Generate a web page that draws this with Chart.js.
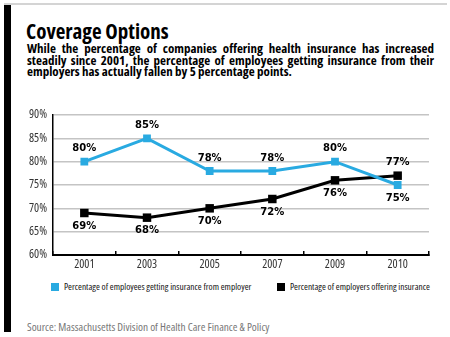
<!DOCTYPE html>
<html>
<head>
<meta charset="utf-8">
<script src="https://cdn.jsdelivr.net/npm/chart.js@4"></script>
<style>
  html, body { margin: 0; padding: 0; background: #fff; }
  #page { position: relative; width: 450px; height: 337px; overflow: hidden; }
  .cond { font-family: "Open Sans", sans-serif; font-stretch: condensed; }
  #bar { position: absolute; left: 4px; top: 5px; width: 7px; height: 327px; background: #000; }
  #rule { position: absolute; left: 4px; top: 3px; width: 443px; height: 2px; background: #d4d4d4; }
  #title { position: absolute; left: 26px; top: 21px; font-size: 21px; line-height: 21px; font-weight: bold; color: #000; white-space: nowrap; }
  #sub { position: absolute; left: 27px; top: 43px; width: 407px; font-size: 13px; line-height: 11.7px; font-weight: bold; color: #000; }
  #sub div { white-space: nowrap; }
  #sub div.j { text-align: justify; text-align-last: justify; white-space: normal; }
  #legend { position: absolute; top: 280px; left: 0; width: 450px; height: 14px; font-size: 9.4px; line-height: 14px; color: #111; }
  #legend span.item { position: absolute; top: 0; white-space: nowrap; }
  #legend i { display: inline-block; width: 8px; height: 8px; margin-right: 5px; vertical-align: -0.5px; }
  #source { position: absolute; left: 27px; top: 321px; font-size: 11.3px; line-height: 12px; color: #777; white-space: nowrap; }
  #wrap { position: absolute; left: 0; top: 100px; width: 450px; height: 175px; }
</style>
</head>
<body>
<div id="page">
  <div id="rule"></div>
  <div id="bar"></div>
  <div id="title" class="cond">Coverage Options</div>
  <div id="sub" class="cond">
    <div class="j">While the percentage of companies offering health insurance has increased</div>
    <div class="j">steadily since 2001, the percentage of employees getting insurance from their</div>
    <div>employers has actually fallen by 5 percentage points.</div>
  </div>
  <div id="wrap"><canvas id="lineChart"></canvas></div>
  <div id="legend" class="cond"></div>
  <div id="source" class="cond">Source: Massachusetts Division of Health Care Finance &amp; Policy</div>
</div>
<script>
const years = ['2001', '2003', '2005', '2007', '2009', '2010'];
const employeesGetting = [80, 85, 78, 78, 80, 75];
const employersOffering = [69, 68, 70, 72, 76, 77];
const yTicks = [60, 65, 70, 75, 80, 85, 90];
const seriesNames = ['Percentage of employees getting insurance from employer', 'Percentage of employers offering insurance'];
const seriesColors = ['#29aae1', '#000000'];

// Open Sans condensed for canvas text ("condensed" rides along in the weight slot)
const cond = size => ({ family: '"Open Sans"', size: size, weight: 'condensed' });

// value labels: the higher series of each year goes above, the lower below
const valueLabels = {
    id: 'valueLabels',
    afterDatasetsDraw(chart) {
        const ctx = chart.ctx;
        const sets = chart.data.datasets;
        ctx.save();
        ctx.font = 'bold 10px "DejaVu Sans", sans-serif';
        ctx.fillStyle = '#000';
        ctx.textAlign = 'center';
        ctx.textBaseline = 'middle';
        sets.forEach((ds, i) => {
            const meta = chart.getDatasetMeta(i);
            meta.data.forEach((pt, j) => {
                const v = ds.data[j];
                const other = sets[1 - i].data[j];
                const dy = v >= other ? -13 : 13;
                ctx.fillText(v + '%', pt.x, pt.y + dy);
            });
        });
        ctx.restore();
    }
};

const ctx1 = document.getElementById('lineChart').getContext('2d');

const chart = new Chart(ctx1, {
    type: 'line',
    data: {
        labels: years,
        datasets: [{
            label: seriesNames[0],
            data: employeesGetting,
            borderColor: seriesColors[0],
            backgroundColor: seriesColors[0],
            borderWidth: 3,
            pointStyle: 'rect',
            pointRadius: 5.5,
            pointBorderWidth: 0
        }, {
            label: seriesNames[1],
            data: employersOffering,
            borderColor: seriesColors[1],
            backgroundColor: seriesColors[1],
            borderWidth: 3,
            pointStyle: 'rect',
            pointRadius: 6,
            pointBorderWidth: 0
        }]
    },
    options: {
        responsive: true,
        maintainAspectRatio: false,
        animation: false,
        layout: { padding: { top: 15, right: 21, left: 0, bottom: 0 } },
        plugins: {
            tooltip: { enabled: false },
            legend: { display: false }
        },
        scales: {
            x: {
                offset: true,
                grid: { offset: true, drawOnChartArea: false, drawTicks: true, tickLength: -4, color: '#000', lineWidth: 1.5 },
                border: { color: '#000', width: 2 },
                ticks: { color: '#333', font: cond(12), padding: 6 },
                afterFit(scale) { scale.height = 20; }
            },
            y: {
                min: 60,
                max: 90,
                afterBuildTicks(scale) { scale.ticks = yTicks.map(v => ({ value: v })); },
                grid: { color: '#c4c4c4', lineWidth: 1.5, drawTicks: false },
                border: { color: '#000', width: 1.5 },
                ticks: { color: '#333', font: cond(12), padding: 6, callback: v => v + '%' },
                afterFit(scale) { scale.width = 53; }
            }
        }
    },
    plugins: [valueLabels]
});

// legend below the plot
const legendBox = document.getElementById('legend');
const legendLeft = [51, 277];
chart.data.datasets.forEach((ds, i) => {
    const item = document.createElement('span');
    item.className = 'item';
    item.style.left = legendLeft[i] + 'px';
    item.innerHTML = '<i style="background:' + ds.backgroundColor + '"></i>' + ds.label;
    legendBox.appendChild(item);
});
</script>
</body>
</html>
